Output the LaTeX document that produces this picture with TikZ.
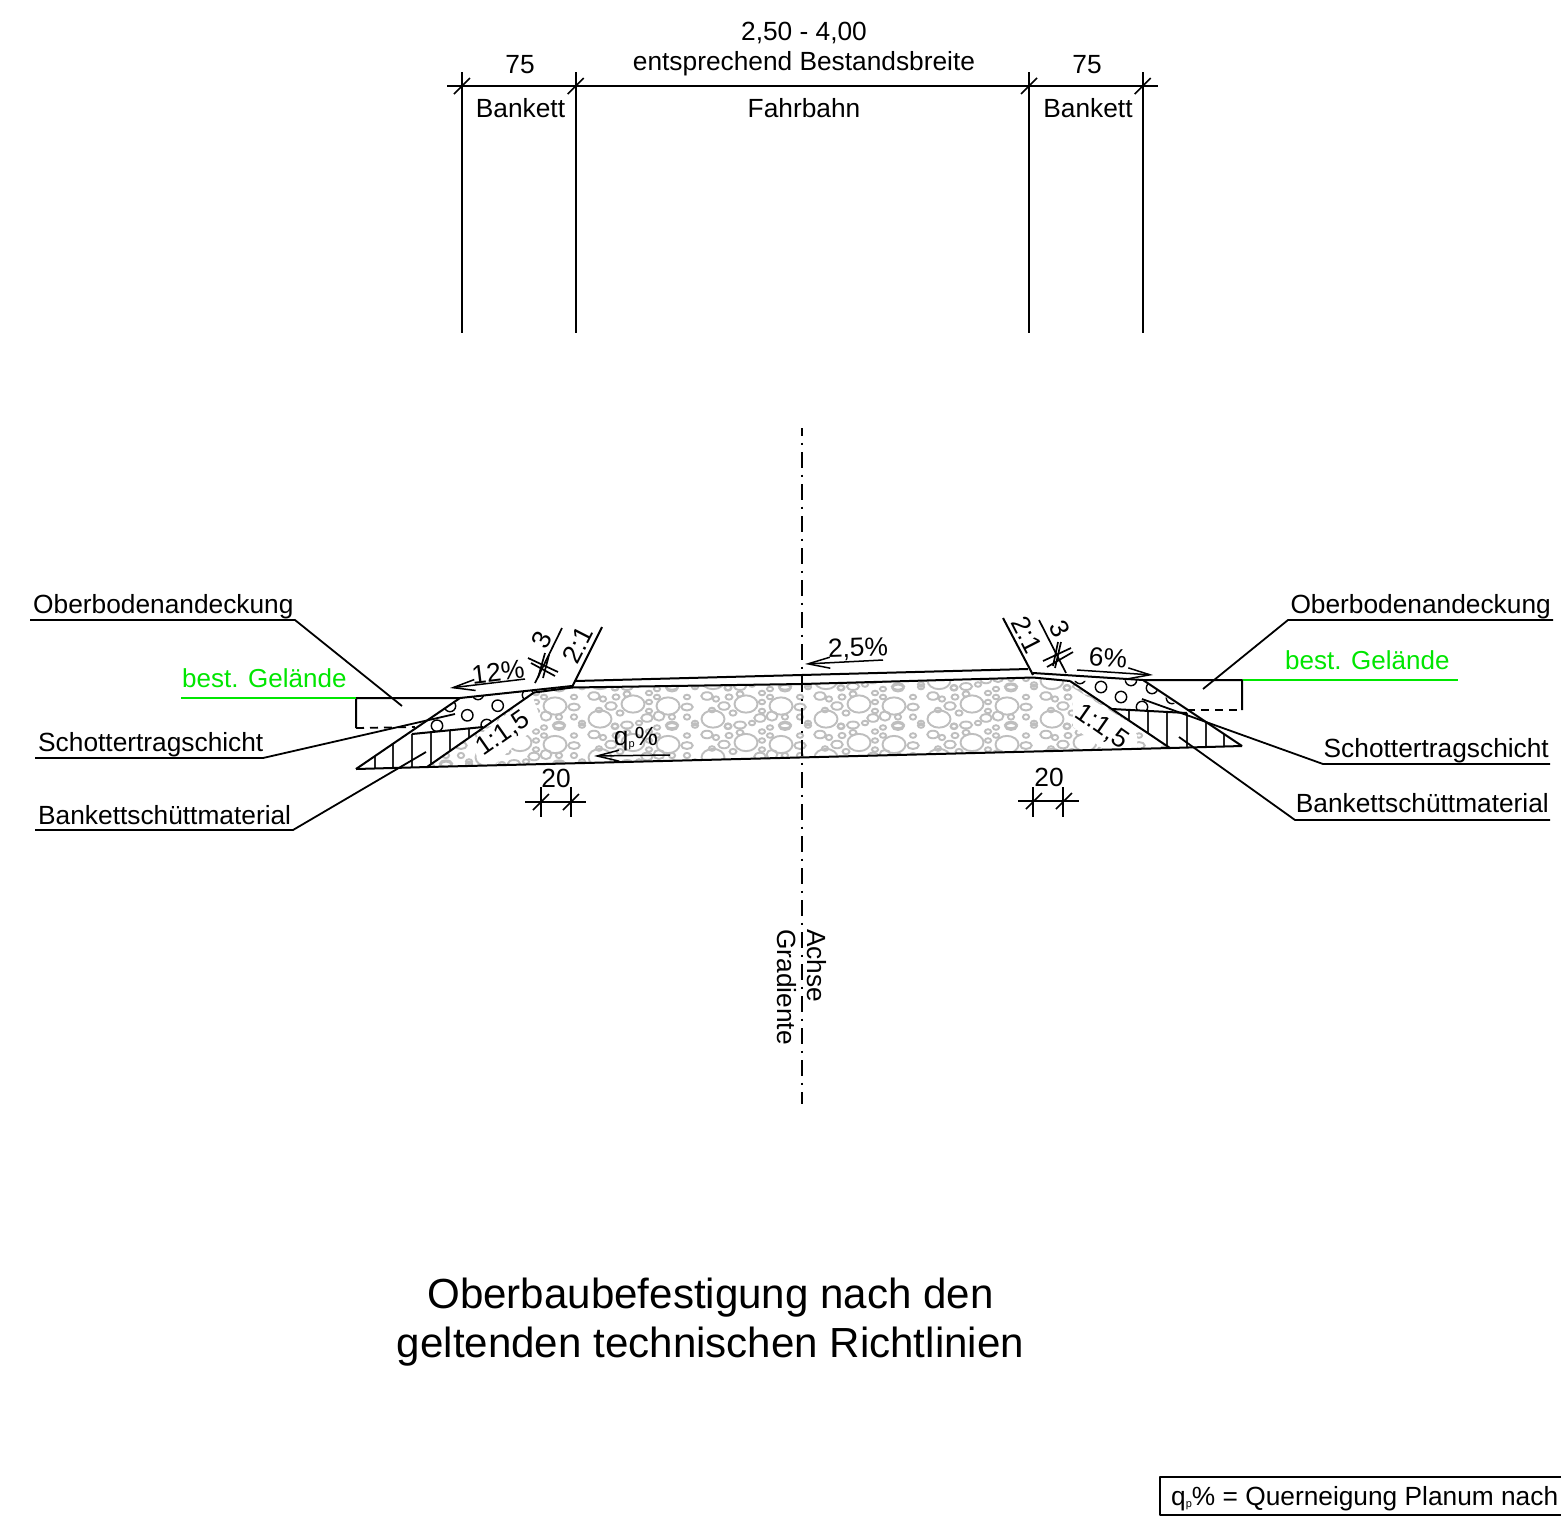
\documentclass[tikz,border=0pt]{standalone}
\usepackage{fontspec}
\setmainfont{Liberation Sans}
\usetikzlibrary{arrows.meta}
\tikzset{
  obj/.style={line width=2pt,black,line join=round},
  thin dim/.style={line width=1.7pt,black},
  hatchline/.style={line width=1.2pt,black!85},
  arrowline/.style={line width=1.5pt,black,-{Straight Barb[length=22pt,width=11pt,line width=1.5pt]}},
  txt/.style={inner sep=0pt,font=\fontsize{26.3}{30}\selectfont},
  green txt/.style={inner sep=0pt,font=\fontsize{26}{30}\selectfont,text=geltgreen},
  title txt/.style={inner sep=0pt,font=\fontsize{42.1}{48}\selectfont},
  gravel/.style={draw=gravelgrey,line width=1.9pt},
  pebble/.style={draw=black,line width=1.4pt},
}
\definecolor{geltgreen}{RGB}{0,230,0}
\definecolor{gravelgrey}{RGB}{190,190,190}
\newcommand{\gravelTile}[2]{%
  \begin{scope}[shift={(#1,#2)}]
  \foreach \a/\b/\c/\d in {
    46/14/10/7.5, 81/16/10/7.5, 13/29/10/7.5,
    7/6/5/3.3, 16/9/2.7/2.3, 28/-2/3/2.3, 29/7/3/2.3, 40/4/3/2.3, 24/16/5/3.3,
    12/20/2.7/2, 33/23/3/2.3, 40/35/5.3/3, 28/36/2.7/2.3, 52/33/2.7/2, 60/28/5/3.3,
    72/26/4.7/4, 62/3/2.7/2, 70/-1/2.7/2, 70/7/2.7/2, 62/12/2.7/2, 62/21/2.7/2,
    85/-2/5/3, 85/27/2.7/2.3, 85/35/5.3/2.7, 100/7/2.7/2, 100/17/5/3, 100/27/2.7/2.3, 108/-3/2.7/2, 108/33/2.7/2
  } {\draw[gravel] (\a,\b) ellipse [x radius=\c*1.15,y radius=\d*1.15];}
  \end{scope}}
\begin{document}
\begin{tikzpicture}[x=1pt,y=-1pt]
\useasboundingbox (0,0) rectangle (1561,1519);
\fill[white] (0,0) rectangle (1561,1519);

% gravel
\begin{scope}
  \clip (534,693) -- (572,688) -- (802,684) -- (1033,678) -- (1070,681) -- (1170,748) -- (428,767) -- cycle;
  \foreach \i in {0,...,8} \foreach \j in {0,...,3} {
    \pgfmathsetmacro{\tx}{361+113*\i}
    \pgfmathsetmacro{\ty}{651.5+38.5*\j}
    \gravelTile{\tx}{\ty}
  }
  % gravel-free zones round the slope labels
  \fill[white] (532,695) -- (542,722) -- (513,747) -- (492,767) -- (477,758) -- (473,740) -- cycle;
  \fill[white] (1073,688) -- (1073,727) -- (1103,749) -- (1137,749) -- (1137,735) -- (1130,723) -- cycle;
\end{scope}

% pebbles
\begin{scope}
  \clip (460,698) -- (572,686) -- (534,693) -- (483,727) -- (412,734) -- cycle;
  \foreach \x/\y in {437/725.7,467.3/715.3,497.7/705.7,528/695,478/694,450/706,486.7/725}
    \draw[pebble] (\x,\y) circle [radius=5.7pt];
\end{scope}
\begin{scope}
  \clip (1070,681) -- (1143,680) -- (1187,713) -- (1112,709) -- cycle;
  \foreach \x/\y in {1101/687,1121/697,1142/707,1080/678,1131/680,1152/688,1172/698}
    \draw[pebble] (\x,\y) circle [radius=5.7pt];
\end{scope}

% hatching
\foreach \x/\t/\b in {375/756/768.5,393/744/768,412/734/768,431/732/765,450/730/751,469/728.5/738}
  \draw[hatchline] (\x,\t) -- (\x,\b);
\foreach \x/\t/\b in {1129/710/720.5,1148/711/733,1167/712/746,1187/713/748,1206/722/747.5,1224/734/747}
  \draw[hatchline] (\x,\t) -- (\x,\b);

% top dimension
\draw[thin dim] (462,72) -- (462,333);
\draw[thin dim] (575.7,72) -- (575.7,333);
\draw[thin dim] (1029,72) -- (1029,333);
\draw[thin dim] (1142.7,72) -- (1142.7,333);
\draw[thin dim] (447,86) -- (1158,86);
\foreach \x in {462,575.7,1029,1142.7}
  \draw[thin dim] (\x-8,94) -- (\x+8,78);

% axis
\draw[line width=1.7pt,dash pattern=on 16pt off 6.5pt on 2pt off 7.5pt,dash phase=8pt] (802,428) -- (802,1104);

% structure left
\draw[obj] (1028,669) -- (575,681) -- (602,627);
\draw[obj] (575,681) -- (572,687);
\draw[obj] (356,728) -- (356,698) -- (460,698) -- (572,686);
\draw[obj] (534,692.5) -- (572,687.5) -- (802,684) -- (1033,677.5) -- (1070,681);
\draw[obj] (356,769) -- (460,698);
\draw[obj] (356,769) -- (428,767) -- (1170,748) -- (1242,746);
\draw[obj] (427,767) -- (534,692.5);
\draw[obj] (412,734) -- (483,727);
\draw[line width=1.8pt,dash pattern=on 8pt off 6pt] (356,728) -- (415,727);
% structure right
\draw[obj] (1003,618) -- (1033,675);
\draw[obj] (1033,673) -- (1143,680) -- (1242,680) -- (1242,710);
\draw[line width=1.8pt,dash pattern=on 8pt off 6pt] (1187,710) -- (1242,710);
\draw[obj] (1070,681) -- (1170,748);
\draw[obj] (1143,680) -- (1242,746);
\draw[obj] (1112,709) -- (1187,713);

% green terrain
\draw[line width=2pt,geltgreen] (181,698) -- (356,698);
\draw[line width=2pt,geltgreen] (1243,680) -- (1458,680);

% leaders
\draw[obj,line width=1.8pt] (30,620) -- (295,620) -- (402,706);
\draw[obj,line width=1.8pt] (35,758) -- (263,758) -- (455,714);
\draw[obj,line width=1.8pt] (35,830) -- (293,830) -- (426,752);
\draw[obj,line width=1.8pt] (1553,620) -- (1288,620) -- (1203,689);
\draw[obj,line width=1.8pt] (1550,764) -- (1323,764) -- (1142,699);
\draw[obj,line width=1.8pt] (1550,820) -- (1295,820) -- (1179,737);

% slope arrows
\draw[arrowline] (525,679) -- (450,688);
\draw[arrowline] (883,660) -- (805,664);
\draw[arrowline] (1077,670) -- (1153,675);
\draw[arrowline] (670,755) -- (594,756);

% small dims "3"
\draw[thin dim] (562,628) -- (535,683);
\draw[thin dim] (528,658) -- (558,672);
\draw[thin dim] (531,663) -- (555,676);
\draw[thin dim] (545,653) -- (538,678);
\draw[thin dim] (549,655) -- (543,678);
\draw[thin dim] (1039,620) -- (1066,673);
\draw[thin dim] (1043,661) -- (1071,648);
\draw[thin dim] (1047,667) -- (1073,652);
\draw[thin dim] (1061,642) -- (1055,668);
\draw[thin dim] (1058,642) -- (1053,666);

% small dims "20"
\draw[thin dim] (525,802) -- (586,802);
\draw[thin dim] (541,787) -- (541,817);
\draw[thin dim] (571,787) -- (571,817);
\draw[thin dim] (533,810) -- (549,794);
\draw[thin dim] (563,810) -- (579,794);
\draw[thin dim] (1018,801) -- (1079,801);
\draw[thin dim] (1033,787) -- (1033,817);
\draw[thin dim] (1063,787) -- (1063,817);
\draw[thin dim] (1026,809) -- (1042,793);
\draw[thin dim] (1056,809) -- (1072,793);

% texts
\node[txt,anchor=base] (tA) at (804,40) {2,50 - 4,00};
\node[txt,anchor=base] (tB) at (804,70) {entsprechend Bestandsbreite};
\node[txt,anchor=base] (tC) at (520,73) {75};
\node[txt,anchor=base] (tD) at (1087,73) {75};
\node[txt,anchor=base] (tE) at (520.5,117) {Bankett};
\node[txt,anchor=base] (tF) at (804,117) {Fahrbahn};
\node[txt,anchor=base] (tG) at (1088,117) {Bankett};
\node[txt,anchor=base west] (lA) at (33,613) {Oberbodenandeckung};
\node[green txt,anchor=base west] (lB) at (182,687) {best. Gelände};
\node[txt,anchor=base west] (lC) at (38,751) {Schottertragschicht};
\node[txt,anchor=base west] (lD) at (38,824) {Bankettschüttmaterial};
\node[txt,anchor=base east] (rA) at (1551,613) {Oberbodenandeckung};
\node[green txt,anchor=base west] (rB) at (1285,669) {best. Gelände};
\node[txt,anchor=base east] (rC) at (1549,757) {Schottertragschicht};
\node[txt,anchor=base east] (rD) at (1549,812) {Bankettschüttmaterial};
\node[txt,rotate=7] (sA) at (498,672) {12\%};
\node[txt,rotate=63] (sB) at (542,640) {3};
\node[txt,rotate=63] (sC) at (578,645) {2:1};
\node[txt,rotate=35] (sD) at (503,734) {1:1,5};
\node[txt,rotate=2] (sE) at (858,649) {2,5\%};
\node[txt] (sF) at (636,739) {q\raisebox{-2pt}{\fontsize{11}{12}\selectfont p}\%};
\node[txt,anchor=base] (sG) at (556,787) {20};
\node[txt,anchor=base] (sH) at (1049,786) {20};
\node[txt,rotate=-63] (sI) at (1027,635) {2:1};
\node[txt,rotate=-63] (sJ) at (1060,629) {3};
\node[txt,rotate=-4] (sK) at (1108,658) {6\%};
\node[txt,rotate=-35] (sL) at (1102,727) {1:1,5};
\node[txt,rotate=-90,anchor=base west] (aA) at (807,929) {Achse};
\node[txt,rotate=-90,anchor=base west] (aB) at (777,929) {Gradiente};
\node[title txt,anchor=base] (T1) at (710.5,1308) {Oberbaubefestigung nach den};
\node[title txt,anchor=base] (T2) at (710.5,1357) {geltenden technischen Richtlinien};
\draw[obj] (1600,1477) -- (1160,1477) -- (1160,1515) -- (1600,1515);
\node[txt,anchor=base west] (K) at (1171,1505) {q\raisebox{-2pt}{\fontsize{11}{12}\selectfont p}\% = Querneigung Planum nach};
\end{tikzpicture}
\end{document}
